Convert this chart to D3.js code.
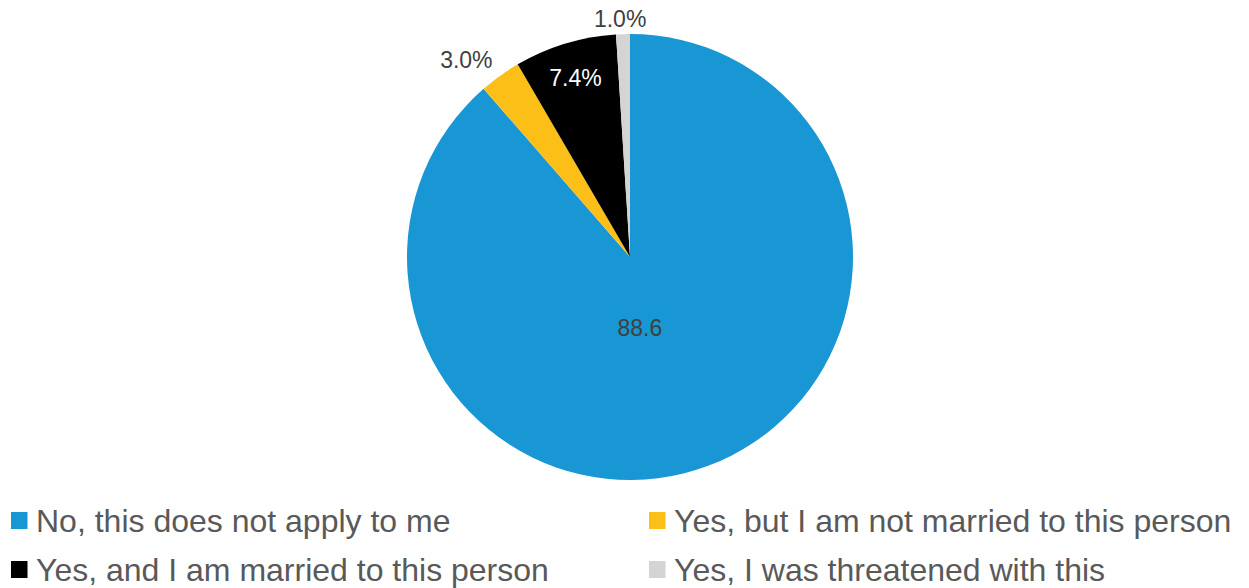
<!DOCTYPE html>
<html>
<head>
<meta charset="utf-8">
<script src="https://cdn.jsdelivr.net/npm/d3@7"></script>
<style>
  html, body { margin: 0; padding: 0; background: #fff; }
  svg { display: block; font-family: "Liberation Sans", Arial, sans-serif; }
</style>
</head>
<body>
<svg id="chart" width="1249" height="588"></svg>
<script>
const categories = [
  "No, this does not apply to me",
  "Yes, but I am not married to this person",
  "Yes, and I am married to this person",
  "Yes, I was threatened with this"
];
const values = [88.6, 3.0, 7.4, 1.0];
const labels = ["88.6", "3.0%", "7.4%", "1.0%"];
const colors = ["#1897D4", "#FCBF17", "#000000", "#D4D4D4"];

const svg = d3.select("#chart");
const cx = 630, cy = 257, R = 223;

const pie = d3.pie().sort(null).value(d => d.v);
const data = values.map((v, i) => ({ v, i }));
const arcs = pie(data);
const arc = d3.arc().innerRadius(0).outerRadius(R);

const g = svg.append("g").attr("transform", `translate(${cx},${cy})`);
g.selectAll("path").data(arcs).enter().append("path")
  .attr("d", arc)
  .attr("fill", d => colors[d.data.i]);

// label placement radii (fraction of R) and angle nudges
const labelR = [0.32, 1.15, 0.84, 1.07];
const angleNudge = [0.22, -0.07, 0, -0.01];
const labelColor = ["#404040", "#404040", "#ffffff", "#404040"];
g.selectAll("text.lbl").data(arcs).enter().append("text")
  .attr("class", "lbl")
  .attr("x", d => {
    const a = (d.startAngle + d.endAngle) / 2 + angleNudge[d.data.i];
    return Math.sin(a) * R * labelR[d.data.i];
  })
  .attr("y", d => {
    const a = (d.startAngle + d.endAngle) / 2 + angleNudge[d.data.i];
    return -Math.cos(a) * R * labelR[d.data.i];
  })
  .attr("text-anchor", "middle")
  .attr("dominant-baseline", "central")
  .attr("font-size", 23)
  .attr("fill", d => labelColor[d.data.i])
  .text(d => labels[d.data.i]);

// legend
const colX = [11, 649];
const rowY = [520.5, 569.5];
const leg = svg.append("g");
categories.forEach((c, i) => {
  const x = colX[i % 2], y = rowY[Math.floor(i / 2)];
  leg.append("rect").attr("x", x).attr("y", y - 8.5).attr("width", 16.5).attr("height", 17)
    .attr("fill", colors[i]);
  leg.append("text").attr("x", x + 25).attr("y", y)
    .attr("dominant-baseline", "central")
    .attr("font-size", 32).attr("fill", "#595959").text(c);
});
</script>
</body>
</html>
